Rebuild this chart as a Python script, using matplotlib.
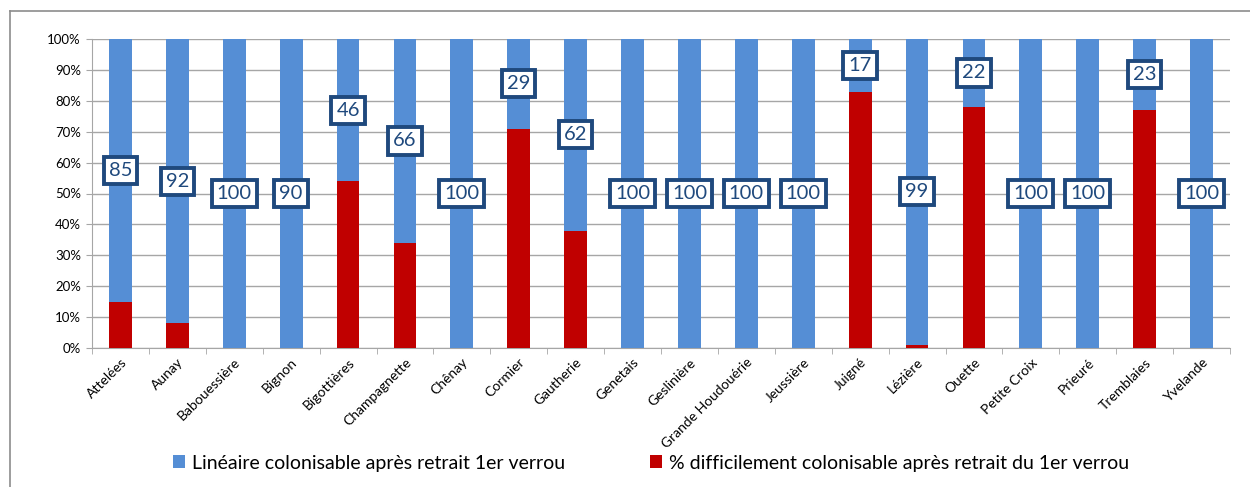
import numpy as np
import matplotlib
matplotlib.use("Agg")
import matplotlib.pyplot as plt
from matplotlib.ticker import PercentFormatter

plt.rcParams['font.family'] = ['Lato', 'DejaVu Sans']

sites = ["Attelées", "Aunay", "Babouessière", "Bignon", "Bigottières",
         "Champagnette", "Chênay", "Cormier", "Gautherie", "Genetais",
         "Geslinière", "Grande Houdouérie", "Jeussière", "Juigné", "Lézière",
         "Ouette", "Petite Croix", "Prieuré", "Tremblaies", "Yvelande"]
difficile = [15, 8, 0, 0, 54, 34, 0, 71, 38, 0, 0, 0, 0, 83, 1, 78, 0, 0, 77, 0]
colonisable = [100 - d for d in difficile]
etiquettes = [85, 92, 100, 90, 46, 66, 100, 29, 62, 100,
              100, 100, 100, 17, 99, 22, 100, 100, 23, 100]

BLUE = "#558ED5"
RED = "#C00000"
DARK = "#1F497D"
GRID = "#A6A6A6"

fig = plt.figure(figsize=(12.5, 4.87), dpi=100)
ax = fig.add_axes([92 / 1250, 1 - 348 / 487, (1230 - 92) / 1250, (348 - 39) / 487])

x = np.arange(len(sites))
ax.bar(x, difficile, width=0.4, color=RED, zorder=3,
       label="% difficilement colonisable après retrait du 1er verrou")
ax.bar(x, colonisable, width=0.4, bottom=difficile, color=BLUE, zorder=3,
       label="Linéaire colonisable après retrait 1er verrou")

for i, (d, c, t) in enumerate(zip(difficile, colonisable, etiquettes)):
    ax.text(i, d + c / 2, str(t), ha="center", va="center", fontsize=14.5,
            color=DARK, zorder=5,
            bbox=dict(boxstyle="square,pad=0.25", fc="white", ec=DARK, lw=2.8))

ax.set_xlim(-0.5, len(sites) - 0.5)
ax.set_ylim(0, 100)
ax.set_yticks(np.arange(0, 101, 10))
ax.yaxis.set_major_formatter(PercentFormatter(decimals=0))
ax.grid(axis="y", color=GRID, lw=1, zorder=0)

ax.set_xticks(x)
ax.set_xticklabels(sites, rotation=45, ha="right", rotation_mode="anchor", fontsize=10)
ax.set_xticks(np.arange(-0.5, len(sites)), minor=True)
ax.tick_params(axis="x", which="major", length=0, pad=6)
ax.tick_params(axis="x", which="minor", length=4, color=GRID)
ax.tick_params(axis="y", length=4, color=GRID, labelsize=9.5, pad=4)

for s in ["top", "right"]:
    ax.spines[s].set_visible(False)
for s in ["left", "bottom"]:
    ax.spines[s].set_color(GRID)

h, l = ax.get_legend_handles_labels()
fig.legend(h[::-1], l[::-1], loc="center", bbox_to_anchor=(651 / 1250, 1 - 463 / 487),
           ncol=2, frameon=False, fontsize=14, handlelength=0.6, handleheight=0.6,
           handletextpad=0.35, columnspacing=4.4)

# partial chart frame (left and top edges)
fig.add_artist(plt.Line2D([10 / 1250, 10 / 1250], [0, 1 - 11 / 487], color="#8C8C8C", lw=1.2))
fig.add_artist(plt.Line2D([10 / 1250, 1], [1 - 11 / 487, 1 - 11 / 487], color="#8C8C8C", lw=1.2))

fig.savefig("out.png", dpi=100)
